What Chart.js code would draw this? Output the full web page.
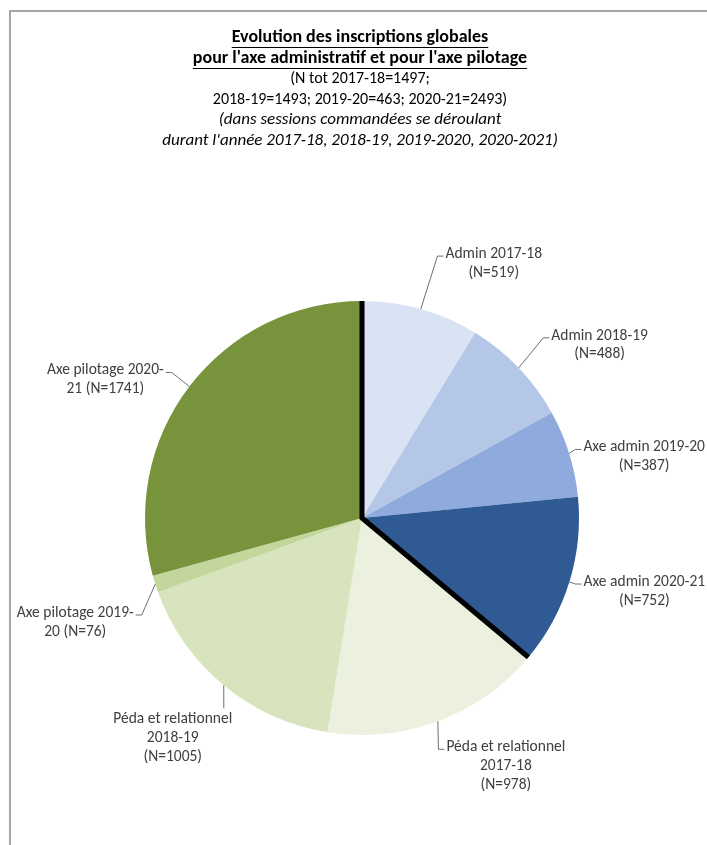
<!DOCTYPE html>
<html>
<head>
<meta charset="utf-8">
<script src="https://cdn.jsdelivr.net/npm/chart.js@4.4.1/dist/chart.umd.min.js"></script>
<style>
  html, body { margin: 0; padding: 0; background: #fff; }
  #wrap { position: relative; width: 707px; height: 845px; }
</style>
</head>
<body>
<div id="wrap"><canvas id="myChart"></canvas></div>
<script>
// --- data ---
const categories = ['Admin 2017-18', 'Admin 2018-19', 'Axe admin 2019-20', 'Axe admin 2020-21',
    'Péda et relationnel 2017-18', 'Péda et relationnel 2018-19', 'Axe pilotage 2019-20', 'Axe pilotage 2020-21'];
const values = [519, 488, 387, 752, 978, 1005, 76, 1741];
// how each data label is split on lines ("|" = new line, {n} = value)
const labelFormats = ['Admin 2017-18|(N={n})', 'Admin 2018-19|(N={n})', 'Axe admin 2019-20|(N={n})',
    'Axe admin 2020-21|(N={n})', 'Péda et relationnel|2017-18|(N={n})', 'Péda et relationnel|2018-19|(N={n})',
    'Axe pilotage 2019-|20 (N={n})', 'Axe pilotage 2020-|21 (N={n})'];
const titleLines = ['Evolution des inscriptions globales', "pour l'axe administratif et pour l'axe pilotage"];
const subtitleLines = ['(N tot 2017-18=1497;', '2018-19=1493; 2019-20=463; 2020-21=2493)'];
const noteLines = ['(dans sessions commandées se déroulant', "durant l'année 2017-18, 2018-19, 2019-2020, 2020-2021)"];

const colors = ['#dae3f3', '#b4c7e7', '#8faadc', '#2f5a94', '#ebf1de', '#d7e4bd', '#c3d69b', '#77933c'];
const FONT = 'Carlito, Lato, "Open Sans", sans-serif';

// label placement: text centre offset from slice outer midpoint, side where the leader attaches
const labelPos = [
    { dx: 73, dy: -55, side: 'left' },
    { dx: 81, dy: -32, side: 'left' },
    { dx: 75, dy: -6, side: 'left' },
    { dx: 75, dy: 0, side: 'left' },
    { dx: 68, dy: 26, side: 'left' },
    { dx: -51, dy: 34, side: 'top' },
    { dx: -80, dy: 29, side: 'right' },
    { dx: -84, dy: -16, side: 'right' }
];

const framePlugin = {
    id: 'frame',
    beforeDraw(chart) {
        const c = chart.ctx;
        c.save();
        c.fillStyle = '#fff';
        c.fillRect(0, 0, chart.width, chart.height);
        c.strokeStyle = '#a6a6a6';
        c.lineWidth = 2;
        c.beginPath();
        c.moveTo(10, chart.height);
        c.lineTo(10, 11);
        c.lineTo(chart.width, 11);
        c.stroke();

        // heading
        c.textAlign = 'center';
        c.textBaseline = 'middle';
        c.fillStyle = '#000';
        c.strokeStyle = '#000';
        c.lineWidth = 1;
        const cx = 360;
        let y = 37;
        c.font = 'bold 18px ' + FONT;
        titleLines.forEach(t => {
            c.fillText(t, cx, y);
            const w = c.measureText(t).width;
            c.beginPath();
            c.moveTo(cx - w / 2, y + 10.5);
            c.lineTo(cx + w / 2, y + 10.5);
            c.stroke();
            y += 21;
        });
        c.font = '16px ' + FONT;
        subtitleLines.forEach(t => { c.fillText(t, cx, y); y += 20.5; });
        c.font = 'italic 17px ' + FONT;
        noteLines.forEach(t => { c.fillText(t, cx, y); y += 20.5; });
        c.restore();
    }
};

const labelPlugin = {
    id: 'sliceLabels',
    afterDatasetsDraw(chart) {
        const c = chart.ctx;
        const arcs = chart.getDatasetMeta(0).data;
        c.save();

        // thick black separators around the admin slices
        const a0 = arcs[0], a3 = arcs[3];
        const r = a0.outerRadius;
        c.strokeStyle = '#000';
        c.lineWidth = 5;
        c.lineJoin = 'miter';
        c.beginPath();
        c.moveTo(a0.x + r * Math.cos(a0.startAngle), a0.y + r * Math.sin(a0.startAngle));
        c.lineTo(a0.x, a0.y);
        c.lineTo(a3.x + r * Math.cos(a3.endAngle), a3.y + r * Math.sin(a3.endAngle));
        c.stroke();

        c.font = '15.5px ' + FONT;
        c.textAlign = 'center';
        c.textBaseline = 'middle';
        const lh = 18.7;
        arcs.forEach((arc, i) => {
            const mid = (arc.startAngle + arc.endAngle) / 2;
            const px = arc.x + arc.outerRadius * Math.cos(mid);
            const py = arc.y + arc.outerRadius * Math.sin(mid);
            const pos = labelPos[i];
            const lines = labelFormats[i].replace('{n}', values[i]).split('|');
            const tx = px + pos.dx, ty = py + pos.dy;
            c.fillStyle = '#404040';
            lines.forEach((t, k) => c.fillText(t, tx, ty + k * lh));

            const w1 = c.measureText(lines[0]).width;
            c.strokeStyle = '#6f6f6f';
            c.lineWidth = 1;
            c.beginPath();
            c.moveTo(px, py);
            if (pos.side === 'left') {
                const ex = tx - w1 / 2 - 2, ey = ty + 2;
                c.lineTo(ex - 6, ey);
                c.lineTo(ex, ey);
            } else if (pos.side === 'right') {
                const ex = tx + w1 / 2 + 2, ey = ty + 2;
                c.lineTo(ex + 6, ey);
                c.lineTo(ex, ey);
            } else {
                c.lineTo(px, ty - 11);
            }
            c.stroke();
        });
        c.restore();
    }
};

new Chart(document.getElementById('myChart').getContext('2d'), {
    type: 'pie',
    data: {
        labels: categories,
        datasets: [{
            data: values,
            backgroundColor: colors,
            borderWidth: 0
        }]
    },
    options: {
        responsive: true,
        maintainAspectRatio: false,
        animation: false,
        layout: { padding: { top: 301, left: 145, right: 128, bottom: 110 } },
        plugins: {
            legend: { display: false },
            title: { display: false },
            tooltip: { enabled: false }
        }
    },
    plugins: [framePlugin, labelPlugin]
});
</script>
</body>
</html>
